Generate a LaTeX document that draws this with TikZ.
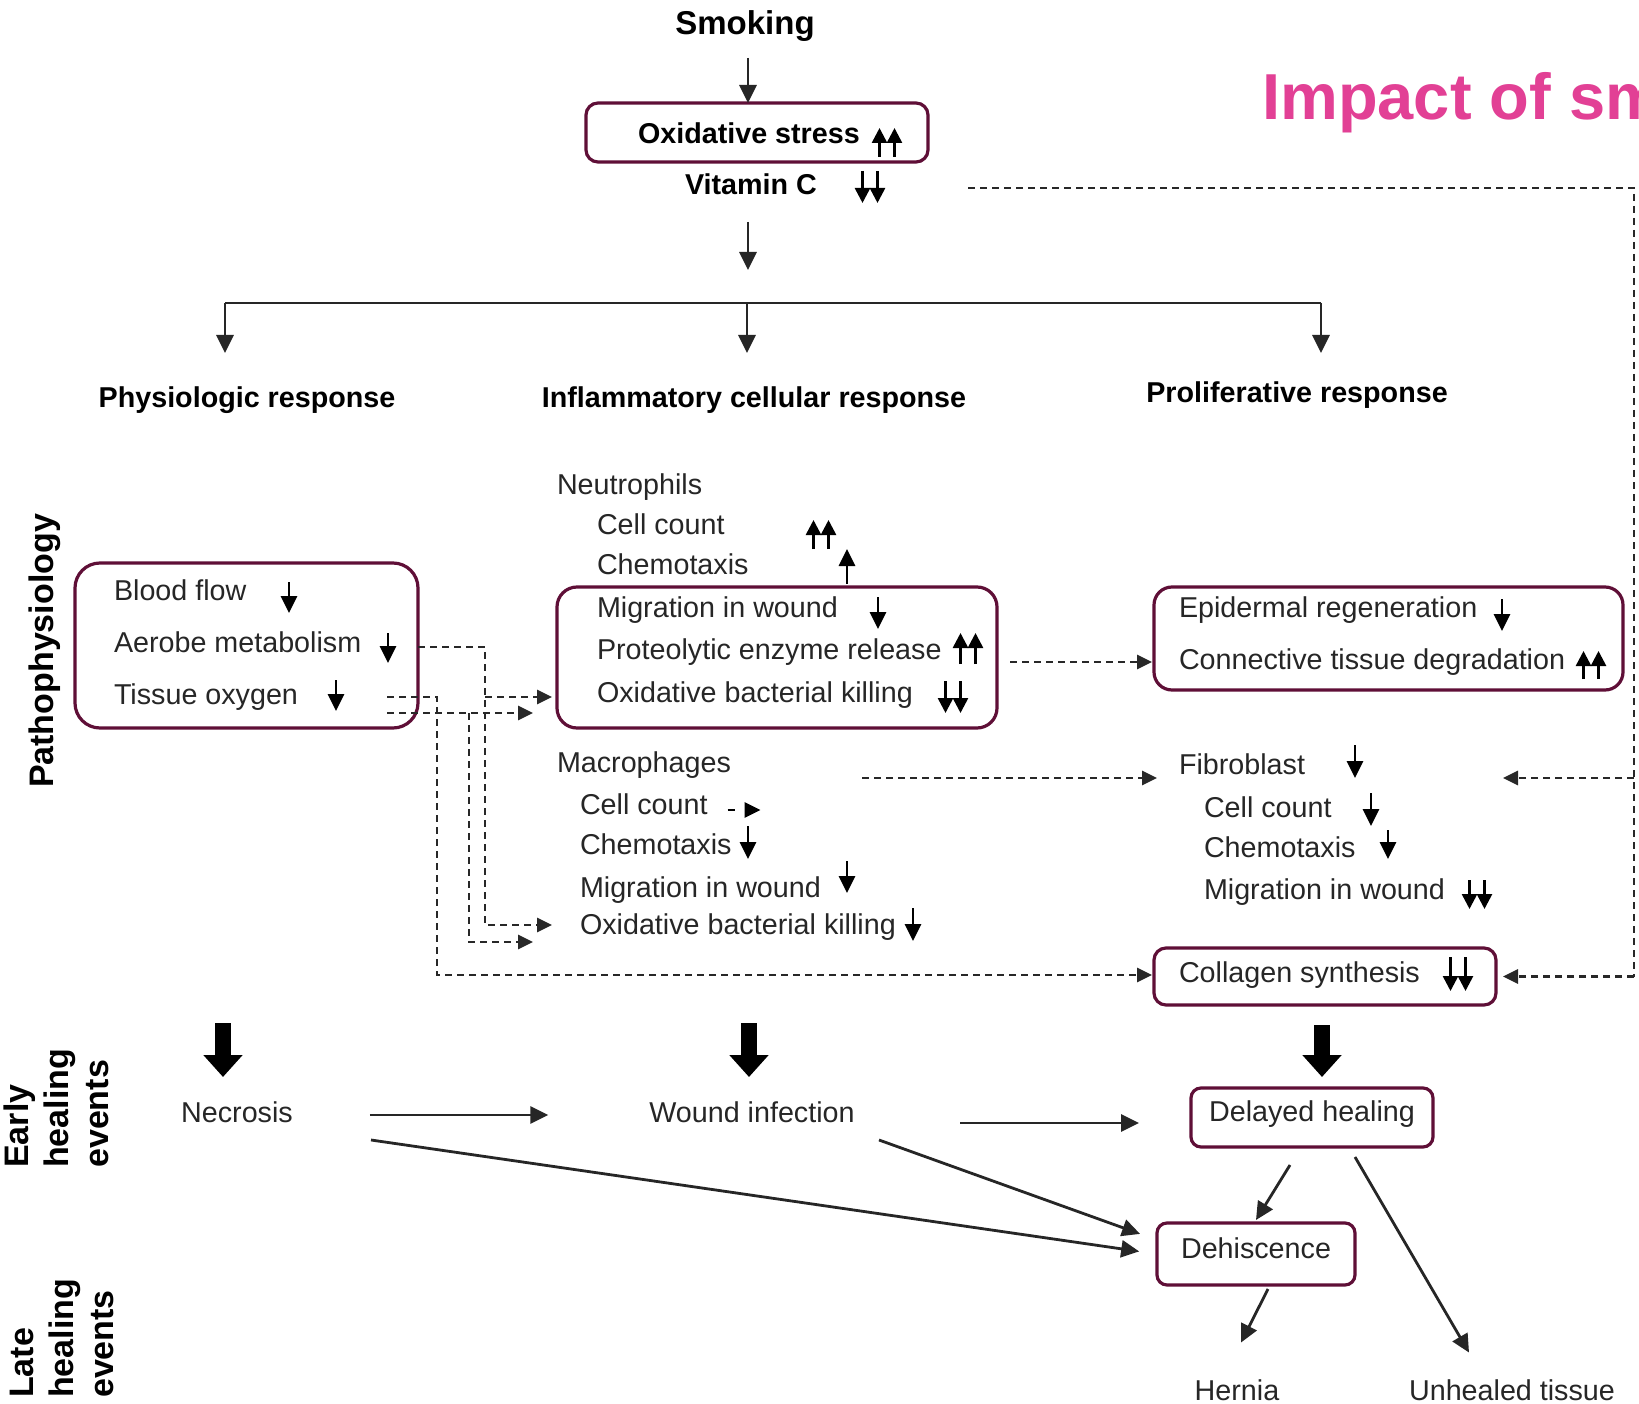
\documentclass[tikz,border=0pt]{standalone}
\usepackage{fontspec}
\setmainfont{Liberation Sans}
\usetikzlibrary{arrows.meta}
\definecolor{boxc}{RGB}{95,15,55}
\definecolor{pinkc}{RGB}{226,64,149}
\definecolor{txtc}{RGB}{38,38,38}
\definecolor{dashc}{RGB}{40,40,40}
\newcommand\fsr{\fontsize{28.7}{34}\selectfont}
\newcommand\fsb{\fontsize{28.7}{34}\selectfont\bfseries}
\newcommand\fsl{\fontsize{34}{40}\selectfont\bfseries}
\newcommand\iDn[3]{\draw[ind] (#1,#2) -- (#1,#3);}
\newcommand\iUp[3]{\draw[ind] (#1,#3) -- (#1,#2);}
\newcommand\iDDn[3]{\draw[dind] (#1-7.5,#2) -- (#1-7.5,#3); \draw[dind] (#1+7.5,#2) -- (#1+7.5,#3);}
\newcommand\iDUp[3]{\draw[dind] (#1-7.5,#3) -- (#1-7.5,#2); \draw[dind] (#1+7.5,#3) -- (#1+7.5,#2);}
\tikzset{
  lbl/.style={anchor=west, inner sep=0pt, outer sep=0pt, text height=20pt, text depth=5pt, font=\fsr, text=txtc},
  hdr/.style={inner sep=0pt, outer sep=0pt, text height=20pt, text depth=5pt, font=\fsb, text=black},
  frm/.style={draw=boxc, line width=3.2pt, inner sep=0pt, outer sep=0pt, rounded corners=#1},
  arr/.style={draw=black!85, line width=2.8pt, -{Triangle[length=18pt,width=17pt]}},
  darr/.style={draw=dashc, line width=2.8pt, dash pattern=on 7pt off 5pt, -{Triangle[length=15pt,width=14pt]}},
  dln/.style={draw=dashc, line width=2.8pt, dash pattern=on 7pt off 5pt},
  ind/.style={draw=black, line width=2.8pt, -{Triangle[length=17pt,width=16pt]}},
  dind/.style={draw=black, line width=2.6pt, -{Triangle[length=15pt,width=15pt]}},
  blk/.style={draw=black, line width=16pt, -{Triangle[length=22pt,width=38pt]}},
}
\begin{document}
\begin{tikzpicture}[x=1pt,y=-1pt]
\useasboundingbox (0,0) rectangle (1639,1404);
\clip (0,0) rectangle (1639,1404);
\fill[white] (0,0) rectangle (1639,1404);

% ---------- title and top ----------
\node[font=\fontsize{65}{70}\selectfont\bfseries, text=pinkc, anchor=base west, inner sep=0pt] (ttl) at (1262,120) {Impact of sm};
\node[font=\fontsize{33}{38}\selectfont\bfseries, inner sep=0pt] (smk) at (745,26) {Smoking};
\node[frm=12pt, minimum width=342pt, minimum height=59pt] (osbox) at (757,132.5) {};
\node[hdr, anchor=west] (ox) at (638,136) {Oxidative stress};
\iDUp{887}{128}{157}
\node[hdr, anchor=west] (vit) at (685,187) {Vitamin C};
\iDDn{870}{171}{203}

\coordinate (c1) at (748,58);
\draw[arr] (c1) -- (c1 |- osbox.north);
\coordinate (c2) at (748,222);
\coordinate (c3) at (748,270);
\draw[arr] (c2) -- (c3);

\coordinate (bL) at (225,303);
\coordinate (bM) at (747,303);
\coordinate (bR) at (1321,303);
\draw[draw=black!85, line width=2.8pt] (bL) -- (bR);
\draw[arr] (bL) -- ++(0,50);
\draw[arr] (bM) -- ++(0,50);
\draw[arr] (bR) -- ++(0,50);

\node[hdr] (phys) at (247,400) {Physiologic response};
\node[hdr] (infl) at (754,400) {Inflammatory cellular response};
\node[hdr] (prol) at (1297,395) {Proliferative response};

% ---------- side labels ----------
\node[font=\fsl, rotate=90, inner sep=0pt] (patho) at (45,651) {Pathophysiology};
\node[font=\fsl, rotate=90, inner sep=0pt, align=left, anchor=north west] (early) at (4,1168) {Early\\healing\\events};
\node[font=\fsl, rotate=90, inner sep=0pt, align=left, anchor=north west] (late) at (10,1398) {Late\\healing\\events};

% ---------- physiologic box ----------
\node[frm=25pt, minimum width=343pt, minimum height=165pt] (physbox) at (246.5,645.5) {};
\node[lbl] (bf) at (114,593) {Blood flow}; \iDn{289}{582}{613}
\node[lbl] (am) at (114,645) {Aerobe metabolism}; \iDn{388}{633}{663}
\node[lbl] (to) at (114,697) {Tissue oxygen}; \iDn{336}{680}{711}

% ---------- neutrophils ----------
\node[lbl] (neu) at (557,487) {Neutrophils};
\node[lbl] (ncc) at (597,527) {Cell count}; \iDUp{821}{520}{549}
\node[lbl] (nch) at (597,567) {Chemotaxis}; \iUp{847}{549}{584}
\node[frm=20pt, minimum width=440pt, minimum height=141pt] (neubox) at (777,657.5) {};
\node[lbl] (nmw) at (597,610) {Migration in wound}; \iDn{878}{597}{629}
\node[lbl] (npe) at (597,652) {Proteolytic enzyme release}; \iDUp{968}{633}{664}
\node[lbl] (nok) at (597,695) {Oxidative bacterial killing}; \iDDn{953}{681}{713}

% ---------- macrophages ----------
\node[lbl] (mac) at (557,765) {Macrophages};
\node[lbl] (mcc) at (580,807) {Cell count};
\draw[draw=black, line width=2.8pt, dash pattern=on 7pt off 20pt, -{Triangle[length=16pt,width=15pt]}] (mcc.east) ++(20,3) -- ++(33,0);
\node[lbl] (mch) at (580,847) {Chemotaxis}; \iDn{748}{826}{859}
\node[lbl] (mmw) at (580,890) {Migration in wound}; \iDn{847}{861}{893}
\node[lbl] (mok) at (580,927) {Oxidative bacterial killing}; \iDn{913}{908}{941}

% ---------- proliferative ----------
\node[frm=18pt, minimum width=469pt, minimum height=103pt] (epibox) at (1388.5,638.5) {};
\node[lbl] (epr) at (1179,610) {Epidermal regeneration}; \iDn{1502}{599}{631}
\node[lbl] (ctd) at (1179,662) {Connective tissue degradation}; \iDUp{1591}{651}{679}
\node[lbl] (fib) at (1179,767) {Fibroblast}; \iDn{1355}{745}{778}
\node[lbl] (fcc) at (1204,810) {Cell count}; \iDn{1371}{793}{826}
\node[lbl] (fch) at (1204,850) {Chemotaxis}; \iDn{1388}{830}{859}
\node[lbl] (fmw) at (1204,892) {Migration in wound}; \iDDn{1477}{880}{909}
\node[frm=12pt, minimum width=342pt, minimum height=57pt] (colbox) at (1325,976.5) {};
\node[lbl] (col) at (1179,975) {Collagen synthesis}; \iDDn{1458}{957}{991}

% ---------- dashed connectors ----------
\coordinate (v1) at (968,188);
\coordinate (v2) at (1634,188);
\coordinate (v3) at (1634,778);
\coordinate (v4) at (1634,976.5);
\coordinate (v5) at (1503,778);
\draw[dln] (v1) -- (v2) -- (v4);
\draw[darr] (v3) -- (v5);
\draw[darr, shorten >=7pt] (v4) -- (colbox.east);

\draw[darr, shorten <=13pt, shorten >=2pt] (neubox.east |- ctd.west) -- (epibox.west |- ctd.west);

\coordinate (m1) at (862,778);
\draw[darr, shorten >=22pt] (m1) -- (fib.west |- m1);

\coordinate (a1) at (485,647);
\coordinate (a2) at (485,697);
\coordinate (a3) at (485,925);
\draw[darr, shorten >=28pt] (physbox.east |- a1) -- (a1) -- (a3) -- (mok.west |- a3);
\draw[darr, shorten >=5pt] (a2) -- (neubox.west |- a2);

\coordinate (t1) at (387,697);
\coordinate (t2) at (437,697);
\coordinate (t3) at (437,975);
\draw[darr, shorten >=2pt] (t1) -- (t2) -- (t3) -- (colbox.west |- t3);
\coordinate (u1) at (387,713);
\coordinate (u2) at (469,713);
\coordinate (u3) at (469,942);
\draw[darr, shorten >=24pt] (u1) -- (neubox.west |- u1);
\draw[darr, shorten >=47pt] (u2) -- (u3) -- (mok.west |- u3);

% ---------- healing events ----------
\coordinate (k1) at (223,1023);
\coordinate (k2) at (749,1023);
\coordinate (k3) at (1322,1025);
\draw[blk] (k1) -- ++(0,54);
\draw[blk] (k2) -- ++(0,54);
\draw[blk] (k3) -- ++(0,52);

\node[lbl, anchor=center] (necro) at (237,1115) {Necrosis};
\node[lbl, anchor=center] (wound) at (752,1115) {Wound infection};
\node[frm=10pt, minimum width=242pt, minimum height=59pt, font=\fsr, text=txtc, text height=20pt, text depth=12pt] (delbox) at (1312,1117.5) {Delayed healing};
\node[frm=10pt, minimum width=198pt, minimum height=62pt, font=\fsr, text=txtc, text height=20pt, text depth=12pt] (dehbox) at (1256,1254) {Dehiscence};
\node[lbl, anchor=center] (hern) at (1237,1393) {Hernia};
\node[lbl, anchor=center] (unh) at (1512,1393) {Unhealed tissue};

\draw[arr, shorten <=77pt, shorten >=101pt] (necro.east) -- (wound.west);
\coordinate (w2) at (960,1123);
\draw[arr, shorten >=52pt] (w2) -- (w2 -| delbox.west);
\coordinate (n2) at (371,1140);
\draw[arr, shorten >=18pt] (n2) -- (dehbox.west);
\coordinate (w3) at (879,1140);
\draw[arr, shorten >=18pt] (w3) -- ([yshift=14pt]dehbox.west);
\draw[arr] ([xshift=-22pt,yshift=-18pt]delbox.south) -- ([yshift=3pt]dehbox.north);
\draw[arr] ([xshift=43pt,yshift=-10pt]delbox.south) -- ([xshift=-43pt,yshift=28pt]unh.north);
\draw[arr] ([xshift=12pt,yshift=-4pt]dehbox.south) -- ([xshift=4pt,yshift=38pt]hern.north);
\end{tikzpicture}
\end{document}
